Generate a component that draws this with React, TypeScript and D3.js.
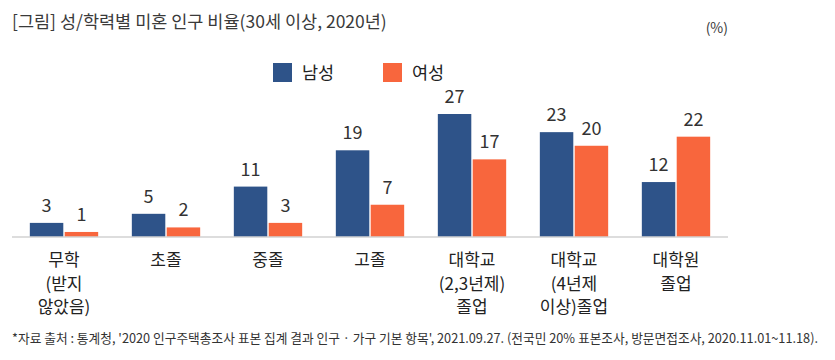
import React from 'react';
import * as d3 from 'd3';

// 학력 구분 (줄바꿈은 배열로)
const categories = ['무학', '초졸', '중졸', '고졸', '대학교2', '대학교4', '대학원'];
const categoryLines = [
  ['무학', '(받지', '않았음)'],
  ['초졸'],
  ['중졸'],
  ['고졸'],
  ['대학교', '(2,3년제)', '졸업'],
  ['대학교', '(4년제', '이상)졸업'],
  ['대학원', '졸업'],
];
const seriesNames = ['남성', '여성'];
const maleValues = [3, 5, 11, 19, 27, 23, 12];
const femaleValues = [1, 2, 3, 7, 17, 20, 22];
const colors = ['#2e5389', '#f8663d'];

const title = '[그림] 성/학력별 미혼 인구 비율(30세 이상, 2020년)';
const unit = '(%)';
const source =
  "*자료 출처 : 통계청, '2020 인구주택총조사 표본 집계 결과 인구 · 가구 기본 항목', 2021.09.27. (전국민 20% 표본조사, 방문면접조사, 2020.11.01~11.18).";

const W = 835;
const H = 360;
const FONT = '"Noto Sans CJK KR", "Noto Sans", sans-serif';

export default function App() {
  const baseline = 236.5;
  const x = d3.scaleBand().domain(categories).range([13, 727]).paddingInner(0.33).paddingOuter(0.165);
  const inner = d3.scaleBand().domain(seriesNames).range([0, x.bandwidth()]).paddingInner(0.04);
  const y = d3.scaleLinear().domain([0, 27]).range([baseline, 114]);

  const series = [maleValues, femaleValues];

  return (
    <svg width={W} height={H} style={{ position: 'absolute', left: 0, top: 0, background: '#fff' }} fontFamily={FONT}>
      <text x={12} y={28} fontSize={17.5} fill="#3a3a3a">{title}</text>
      <text x={728} y={33} fontSize={14} fill="#3a3a3a" textAnchor="end">{unit}</text>

      {/* 범례 */}
      {seriesNames.map((s, i) => (
        <g key={s} transform={`translate(${273 + i * 110}, 63)`}>
          <rect width={19} height={19} fill={colors[i]} />
          <text x={29} y={16} fontSize={17.5} fill="#222">{s}</text>
        </g>
      ))}

      {categories.map((c, ci) => (
        <g key={c} transform={`translate(${x(c)}, 0)`}>
          {series.map((vals, si) => {
            const bx = inner(seriesNames[si])!;
            const v = vals[ci];
            return (
              <g key={si}>
                <rect x={bx} y={y(v)} width={inner.bandwidth()} height={baseline - y(v)} fill={colors[si]} />
                <text x={bx + inner.bandwidth() / 2} y={y(v) - 11} fontSize={18} fill="#333" textAnchor="middle">
                  {v}
                </text>
              </g>
            );
          })}
          {categoryLines[ci].map((line, li) => (
            <text key={li} x={x.bandwidth() / 2} y={266 + li * 23.5} fontSize={17} fill="#222" textAnchor="middle">
              {line}
            </text>
          ))}
        </g>
      ))}

      <line x1={12} x2={728} y1={baseline + 0.5} y2={baseline + 0.5} stroke="#bcbcbc" strokeWidth={1.2} />

      <text x={12} y={343} fontSize={13} fill="#333" textLength={806} lengthAdjust="spacingAndGlyphs">
        {source}
      </text>
    </svg>
  );
}
